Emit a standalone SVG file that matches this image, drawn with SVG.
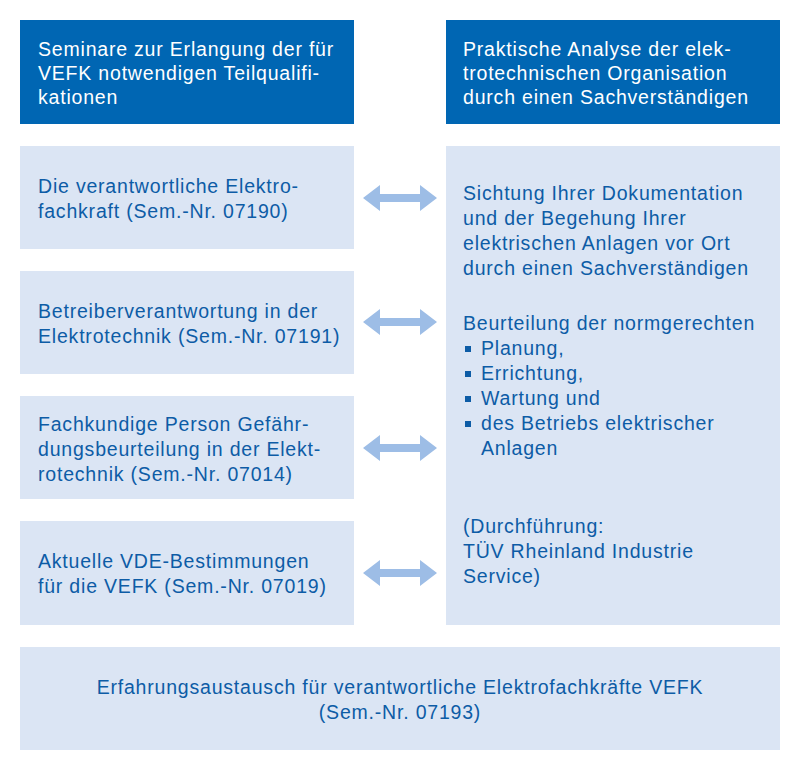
<svg xmlns="http://www.w3.org/2000/svg" width="800" height="773" viewBox="0 0 800 773">
<defs>
<style>
.h{fill:#0066b3}.b{fill:#dbe5f4}
text{font-family:"Liberation Sans",Arial,sans-serif;font-size:19.5px;letter-spacing:0.8px}
.ht{fill:#fff}.bt{fill:#0d5ca6}
.ar{fill:#9dbde6}
</style>
<path id="arr" d="M0,0 L17,-13 L17,-4 L57,-4 L57,-13 L74,0 L57,13 L57,4 L17,4 L17,13 Z"/>
</defs>
<rect width="800" height="773" fill="#fff"/>
<g id="head-left"><rect class="h" x="20" y="20" width="334" height="104"/>
<text class="ht" x="38" y="56">Seminare zur Erlangung der für</text>
<text class="ht" x="38" y="80">VEFK notwendigen Teilqualifi-</text>
<text class="ht" x="38" y="104">kationen</text></g>
<g id="head-right"><rect class="h" x="446" y="20" width="334" height="104"/>
<text class="ht" x="463" y="56">Praktische Analyse der elek-</text>
<text class="ht" x="463" y="80">trotechnischen Organisation</text>
<text class="ht" x="463" y="104">durch einen Sachverständigen</text></g>
<g id="sem1"><rect class="b" x="20" y="146" width="334" height="103"/>
<text class="bt" x="38" y="193">Die verantwortliche Elektro-</text>
<text class="bt" x="38" y="218">fachkraft (Sem.-Nr. 07190)</text></g>
<g id="sem2"><rect class="b" x="20" y="271" width="334" height="103"/>
<text class="bt" x="38" y="318">Betreiberverantwortung in der</text>
<text class="bt" x="38" y="343">Elektrotechnik (Sem.-Nr. 07191)</text></g>
<g id="sem3"><rect class="b" x="20" y="396" width="334" height="103"/>
<text class="bt" x="38" y="431">Fachkundige Person Gefähr-</text>
<text class="bt" x="38" y="456">dungsbeurteilung in der Elekt-</text>
<text class="bt" x="38" y="481">rotechnik (Sem.-Nr. 07014)</text></g>
<g id="sem4"><rect class="b" x="20" y="521" width="334" height="104"/>
<text class="bt" x="38" y="568">Aktuelle VDE-Bestimmungen</text>
<text class="bt" x="38" y="593">für die VEFK (Sem.-Nr. 07019)</text></g>
<g id="analysis"><rect class="b" x="446" y="146" width="334" height="479"/>
<g class="bt">
<text x="463" y="200">Sichtung Ihrer Dokumentation</text>
<text x="463" y="225">und der Begehung Ihrer</text>
<text x="463" y="250">elektrischen Anlagen vor Ort</text>
<text x="463" y="275">durch einen Sachverständigen</text>
<text x="463" y="330">Beurteilung der normgerechten</text>
<rect x="465" y="346" width="6" height="6"/><text x="481" y="355">Planung,</text>
<rect x="465" y="371" width="6" height="6"/><text x="481" y="380">Errichtung,</text>
<rect x="465" y="396" width="6" height="6"/><text x="481" y="405">Wartung und</text>
<rect x="465" y="421" width="6" height="6"/><text x="481" y="430">des Betriebs elektrischer</text>
<text x="481" y="455">Anlagen</text>
<text x="463" y="533">(Durchführung:</text>
<text x="463" y="558">TÜV Rheinland Industrie</text>
<text x="463" y="583">Service)</text></g></g>
<g id="bottom"><rect class="b" x="20" y="647" width="760" height="103"/>
<text class="bt" x="400" y="694" text-anchor="middle">Erfahrungsaustausch für verantwortliche Elektrofachkräfte VEFK</text>
<text class="bt" x="400" y="719" text-anchor="middle">(Sem.-Nr. 07193)</text></g>
<g id="connectors" class="ar">
<use href="#arr" x="363" y="198"/>
<use href="#arr" x="363" y="322"/>
<use href="#arr" x="363" y="448"/>
<use href="#arr" x="363" y="573"/>
</g>
</svg>
